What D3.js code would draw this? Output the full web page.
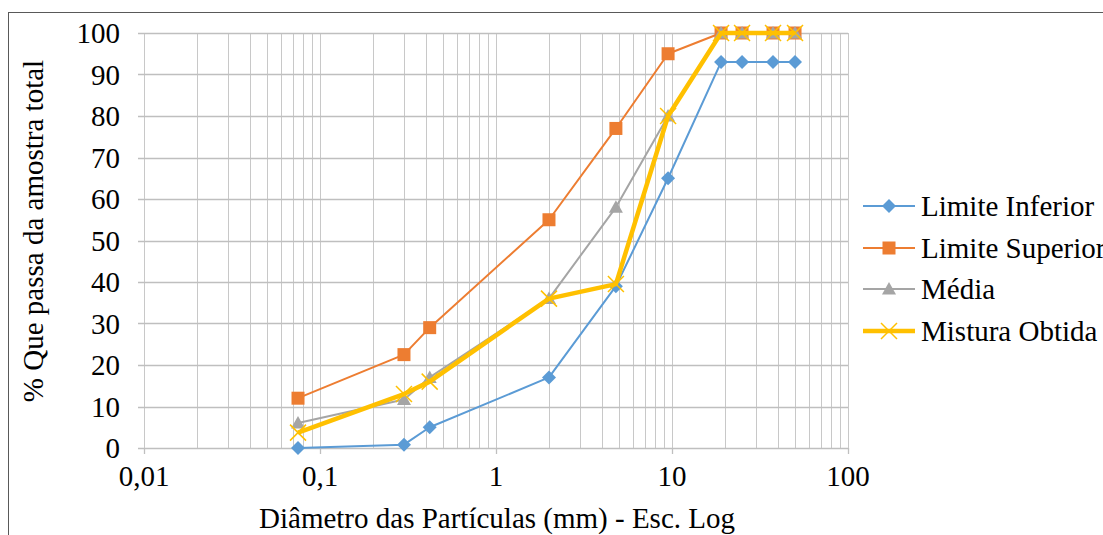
<!DOCTYPE html>
<html><head><meta charset="utf-8">
<script src="https://cdn.jsdelivr.net/npm/d3@7"></script>
</head><body>
<script>
const diameters = [0.075, 0.3, 0.42, 2, 4.8, 9.5, 19, 25, 37.5, 50];
const limiteInferior = [0, 0.8, 5, 17, 39, 65, 93, 93, 93, 93];
const limiteSuperior = [12, 22.5, 29, 55, 77, 95, 100, 100, 100, 100];
const media = [6, 11.7, 17, 36, 58, 80, 100, 100, 100, 100];
const misturaObtida = [3.7, 13, 16, 36, 39.5, 80, 100, 100, 100, 100];
const xTickLabels = ["0,01", "0,1", "1", "10", "100"];
const yTicks = [0,10,20,30,40,50,60,70,80,90,100];
const seriesNames = ["Limite Inferior", "Limite Superior", "Média", "Mistura Obtida"];

d3.select("body").style("margin", "0px");
const W = 1103, H = 535;
const svg = d3.select("body").append("svg").attr("width", W).attr("height", H).style("display", "block");
const pL = 144, pR = 848, pT = 33, pB = 448;
const x = d3.scaleLog().domain([0.01, 100]).range([pL, pR]);
const y = d3.scaleLinear().domain([0, 100]).range([pB, pT]);

// outer frame
svg.append("rect").attr("x", 8.5).attr("y", 12.5).attr("width", 1120).attr("height", 540)
  .attr("fill", "none").attr("stroke", "#595959").attr("stroke-width", 1);

// vertical grid (major + minor)
const vticks = [];
for (let e = -2; e < 2; e++) for (let k = 1; k <= 9; k++) vticks.push(k * Math.pow(10, e));
vticks.push(100);
svg.append("g").selectAll("line").data(vticks).join("line")
  .attr("x1", d => Math.round(x(d)) + 0.5).attr("x2", d => Math.round(x(d)) + 0.5)
  .attr("y1", pT).attr("y2", pB)
  .attr("stroke", "#c8c8c8").attr("stroke-width", 1);
// horizontal grid
svg.append("g").selectAll("line").data(yTicks).join("line")
  .attr("x1", pL - 6).attr("x2", pR)
  .attr("y1", d => Math.round(y(d)) + 0.5).attr("y2", d => Math.round(y(d)) + 0.5)
  .attr("stroke", "#bfbfbf").attr("stroke-width", 1.3);
// bottom major ticks
const majors = [0.01, 0.1, 1, 10, 100];
svg.append("g").selectAll("line").data(majors).join("line")
  .attr("x1", d => Math.round(x(d)) + 0.5).attr("x2", d => Math.round(x(d)) + 0.5)
  .attr("y1", pB).attr("y2", pB + 6)
  .attr("stroke", "#bfbfbf").attr("stroke-width", 1.3);

function txt(sel) {
  return sel.attr("font-family", "Liberation Serif").style("font-family", '"Liberation Serif"')
    .attr("font-size", 29);
}

// tick labels
txt(svg.append("g").selectAll("text").data(yTicks).join("text")
  .attr("x", 120).attr("y", d => y(d) + 10)
  .attr("text-anchor", "end").text(d => String(d)));
txt(svg.append("g").selectAll("text").data(majors).join("text")
  .attr("x", d => x(d)).attr("y", 486)
  .attr("text-anchor", "middle").text((d, i) => xTickLabels[i]));

// axis titles
txt(svg.append("text").attr("x", 497).attr("y", 528).attr("text-anchor", "middle")
  .text("Diâmetro das Partículas (mm) - Esc. Log"));
txt(svg.append("text").attr("transform", "translate(43,231) rotate(-90)").attr("text-anchor", "middle")
  .text("% Que passa da amostra total"));

const colors = ["#5B9BD5", "#ED7D31", "#A5A5A5", "#FFC000"];
const widths = [2, 2, 2, 4.5];
const allSeries = [limiteInferior, limiteSuperior, media, misturaObtida];
const line = d3.line().x(d => x(d[0])).y(d => y(d[1]));

function marker(g, type, cx, cy, color) {
  if (type === 0) {
    g.append("path").attr("d", `M${cx},${cy-7}L${cx+7},${cy}L${cx},${cy+7}L${cx-7},${cy}Z`).attr("fill", color);
  } else if (type === 1) {
    g.append("rect").attr("x", cx-6.5).attr("y", cy-6.5).attr("width", 13).attr("height", 13).attr("fill", color);
  } else if (type === 2) {
    g.append("path").attr("d", `M${cx},${cy-7}L${cx+7},${cy+5.5}L${cx-7},${cy+5.5}Z`).attr("fill", color);
  } else {
    g.append("path").attr("d", `M${cx-8},${cy-8}L${cx+8},${cy+8}M${cx+8},${cy-8}L${cx-8},${cy+8}`)
      .attr("stroke", color).attr("stroke-width", 1.5).attr("fill", "none");
  }
}

allSeries.forEach((vals, si) => {
  const pts = diameters.map((d, i) => [d, vals[i]]);
  const g = svg.append("g");
  g.append("path").attr("d", line(pts)).attr("fill", "none")
    .attr("stroke", colors[si]).attr("stroke-width", widths[si]).attr("stroke-linejoin", "round");
  pts.forEach(p => marker(g, si, x(p[0]), y(p[1]), colors[si]));
});

// legend
const ly = [206, 248, 289, 331];
seriesNames.forEach((name, i) => {
  const g = svg.append("g");
  g.append("line").attr("x1", 863).attr("x2", 915).attr("y1", ly[i]).attr("y2", ly[i])
    .attr("stroke", colors[i]).attr("stroke-width", widths[i]);
  marker(g, i, 889, ly[i], colors[i]);
  txt(g.append("text").attr("x", 921).attr("y", ly[i] + 10).text(name));
});
</script>
</body></html>
